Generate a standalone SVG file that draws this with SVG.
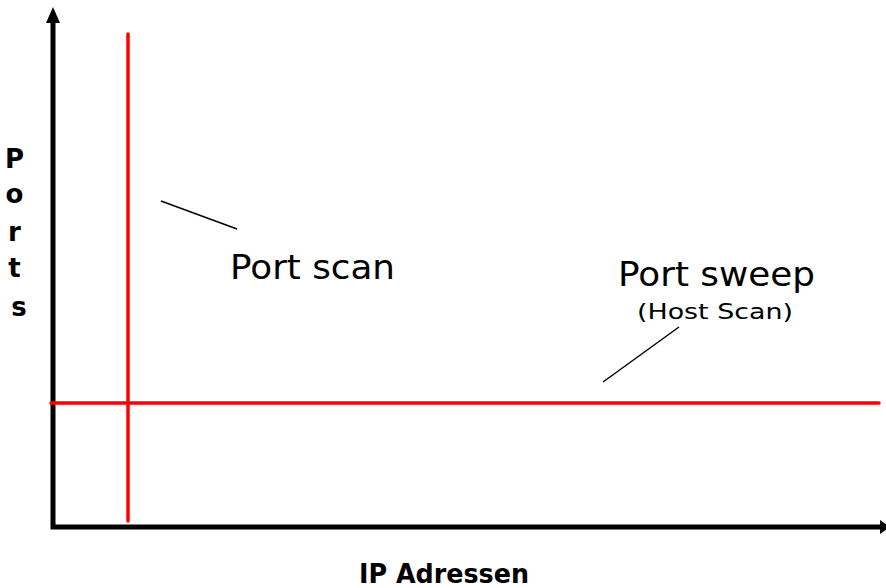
<svg xmlns="http://www.w3.org/2000/svg" width="886" height="588" viewBox="0 0 886 588">
  <style>
    .axis { stroke: #000; stroke-width: 5; fill: none; }
    .trace { stroke: #ff0000; stroke-width: 3.5; stroke-linecap: round; fill: none; }
    .pointer { stroke: #000; stroke-width: 1.5; fill: none; }
    .label { font-family: "DejaVu Sans", Verdana, sans-serif; fill: #000; }
    .bold { font-weight: bold; }
  </style>
  <rect width="886" height="588" fill="#fff"/>

  <g id="axes">
    <polyline class="axis" points="53,22 53,527 880,527"/>
    <polygon points="53,7 46,23 60,23" fill="#000"/>
    <polygon points="890,527 880,520 880,534" fill="#000"/>
  </g>

  <g id="traces">
    <line class="trace" x1="128" y1="34" x2="128" y2="521"/>
    <line class="trace" x1="51" y1="403" x2="879" y2="403"/>
  </g>

  <g id="connectors">
    <line class="pointer" x1="161" y1="201" x2="237" y2="229"/>
    <line class="pointer" x1="603" y1="382" x2="679" y2="327"/>
  </g>

  <g id="y-label">
    <text class="label bold" font-size="26" text-anchor="middle">
      <tspan x="19" y="168">P</tspan>
      <tspan x="19" y="203">o</tspan>
      <tspan x="19" y="241">r</tspan>
      <tspan x="19" y="277">t</tspan>
      <tspan x="19" y="316">s</tspan>
    </text>
  </g>

  <g id="port-scan">
    <text class="label" x="230" y="279" font-size="34" textLength="165" lengthAdjust="spacingAndGlyphs">Port scan</text>
  </g>

  <g id="port-sweep">
    <text class="label" x="618" y="286" font-size="34" textLength="197" lengthAdjust="spacingAndGlyphs">Port sweep</text>
    <text class="label" x="637" y="319" font-size="22" textLength="156" lengthAdjust="spacingAndGlyphs">(Host Scan)</text>
  </g>

  <g id="x-label">
    <text class="label bold" x="359" y="583" font-size="27" textLength="170" lengthAdjust="spacingAndGlyphs">IP Adressen</text>
  </g>
</svg>
